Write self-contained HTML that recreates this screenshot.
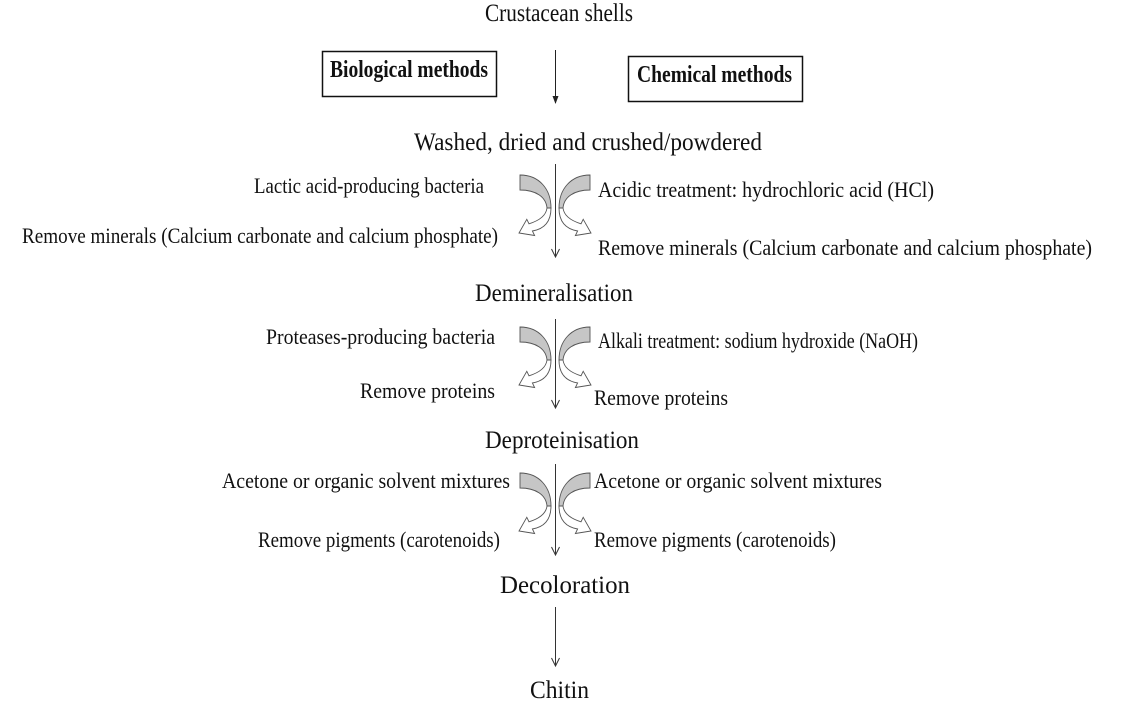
<!DOCTYPE html>
<html>
<head>
<meta charset="utf-8">
<style>
  html, body { margin:0; padding:0; background:#fff; }
  svg { display:block; }
  text { font-family: "Liberation Serif", "Times New Roman", serif; fill:#111; }
  .t { font-size:25px; }
  .l { font-size:22px; }
  .b { font-size:24px; font-weight:bold; }
</style>
</head>
<body>
<svg width="1123" height="722" viewBox="0 0 1123 722" xmlns="http://www.w3.org/2000/svg">
  <defs>
    <g id="carrow">
      <path d="M520 175 C539 175 551 189 551 208 L547 208 C546 197 536 190 520 190 Z" fill="#c6c6c6" stroke="#555" stroke-width="0.9"/>
      <path d="M547 208 L551 208 C551 222 544 229 532.4 231 L534.6 235.5 L519 233 L526.8 219.3 L529 223.8 C538 221 546 216 547 208 Z" fill="#fff" stroke="#555" stroke-width="0.9"/>
    </g>
  </defs>

  <!-- Title -->
  <text class="t" x="485" y="21" textLength="148" lengthAdjust="spacingAndGlyphs">Crustacean shells</text>

  <!-- Boxes -->
  <rect x="322.5" y="51.5" width="174" height="45" fill="none" stroke="#111" stroke-width="1.5"/>
  <text class="b" x="330" y="77" textLength="158" lengthAdjust="spacingAndGlyphs">Biological methods</text>
  <rect x="628.5" y="56.5" width="174" height="45" fill="none" stroke="#111" stroke-width="1.5"/>
  <text class="b" x="637" y="82" textLength="155" lengthAdjust="spacingAndGlyphs">Chemical methods</text>

  <!-- Arrow 1 -->
  <line x1="555.5" y1="50" x2="555.5" y2="103" stroke="#222" stroke-width="1"/>
  <path d="M552.5 96 L555.5 104 L558.5 96 Z" fill="#222"/>

  <text class="t" x="414" y="150" textLength="348" lengthAdjust="spacingAndGlyphs">Washed, dried and crushed/powdered</text>

  <!-- Group 1 -->
  <line x1="555.5" y1="164" x2="555.5" y2="257" stroke="#333" stroke-width="1"/>
  <path d="M551.5 249 L555.5 257 L559.5 249" fill="none" stroke="#333" stroke-width="1"/>
  <use href="#carrow"/>
  <use href="#carrow" transform="translate(1110,0) scale(-1,1)"/>
  <text class="l" x="254" y="193" textLength="230" lengthAdjust="spacingAndGlyphs">Lactic acid-producing bacteria</text>
  <text class="l" x="22" y="243" textLength="476" lengthAdjust="spacingAndGlyphs">Remove minerals (Calcium carbonate and calcium phosphate)</text>
  <text class="l" x="598" y="197" textLength="336" lengthAdjust="spacingAndGlyphs">Acidic treatment: hydrochloric acid (HCl)</text>
  <text class="l" x="598" y="255" textLength="494" lengthAdjust="spacingAndGlyphs">Remove minerals (Calcium carbonate and calcium phosphate)</text>

  <text class="t" x="475" y="301" textLength="158" lengthAdjust="spacingAndGlyphs">Demineralisation</text>

  <!-- Group 2 -->
  <line x1="555.5" y1="319" x2="555.5" y2="408" stroke="#333" stroke-width="1"/>
  <path d="M551.5 400 L555.5 408 L559.5 400" fill="none" stroke="#333" stroke-width="1"/>
  <use href="#carrow" transform="translate(0,152)"/>
  <use href="#carrow" transform="translate(1110,152) scale(-1,1)"/>
  <text class="l" x="266" y="344" textLength="229" lengthAdjust="spacingAndGlyphs">Proteases-producing bacteria</text>
  <text class="l" x="360" y="398" textLength="135" lengthAdjust="spacingAndGlyphs">Remove proteins</text>
  <text class="l" x="598" y="348" textLength="320" lengthAdjust="spacingAndGlyphs">Alkali treatment: sodium hydroxide (NaOH)</text>
  <text class="l" x="594" y="405" textLength="134" lengthAdjust="spacingAndGlyphs">Remove proteins</text>

  <text class="t" x="485" y="448" textLength="154" lengthAdjust="spacingAndGlyphs">Deproteinisation</text>

  <!-- Group 3 -->
  <line x1="555.5" y1="464" x2="555.5" y2="555" stroke="#333" stroke-width="1"/>
  <path d="M551.5 547 L555.5 555 L559.5 547" fill="none" stroke="#333" stroke-width="1"/>
  <use href="#carrow" transform="translate(0,298)"/>
  <use href="#carrow" transform="translate(1110,298) scale(-1,1)"/>
  <text class="l" x="222" y="488" textLength="288" lengthAdjust="spacingAndGlyphs">Acetone or organic solvent mixtures</text>
  <text class="l" x="258" y="547" textLength="242" lengthAdjust="spacingAndGlyphs">Remove pigments (carotenoids)</text>
  <text class="l" x="594" y="488" textLength="288" lengthAdjust="spacingAndGlyphs">Acetone or organic solvent mixtures</text>
  <text class="l" x="594" y="547" textLength="242" lengthAdjust="spacingAndGlyphs">Remove pigments (carotenoids)</text>

  <text class="t" x="500" y="593" textLength="130" lengthAdjust="spacingAndGlyphs">Decoloration</text>

  <!-- Final arrow -->
  <line x1="555.5" y1="607" x2="555.5" y2="666" stroke="#333" stroke-width="1"/>
  <path d="M551.5 658 L555.5 666 L559.5 658" fill="none" stroke="#333" stroke-width="1"/>

  <text class="t" x="530" y="698" textLength="59" lengthAdjust="spacingAndGlyphs">Chitin</text>
</svg>
</body>
</html>
